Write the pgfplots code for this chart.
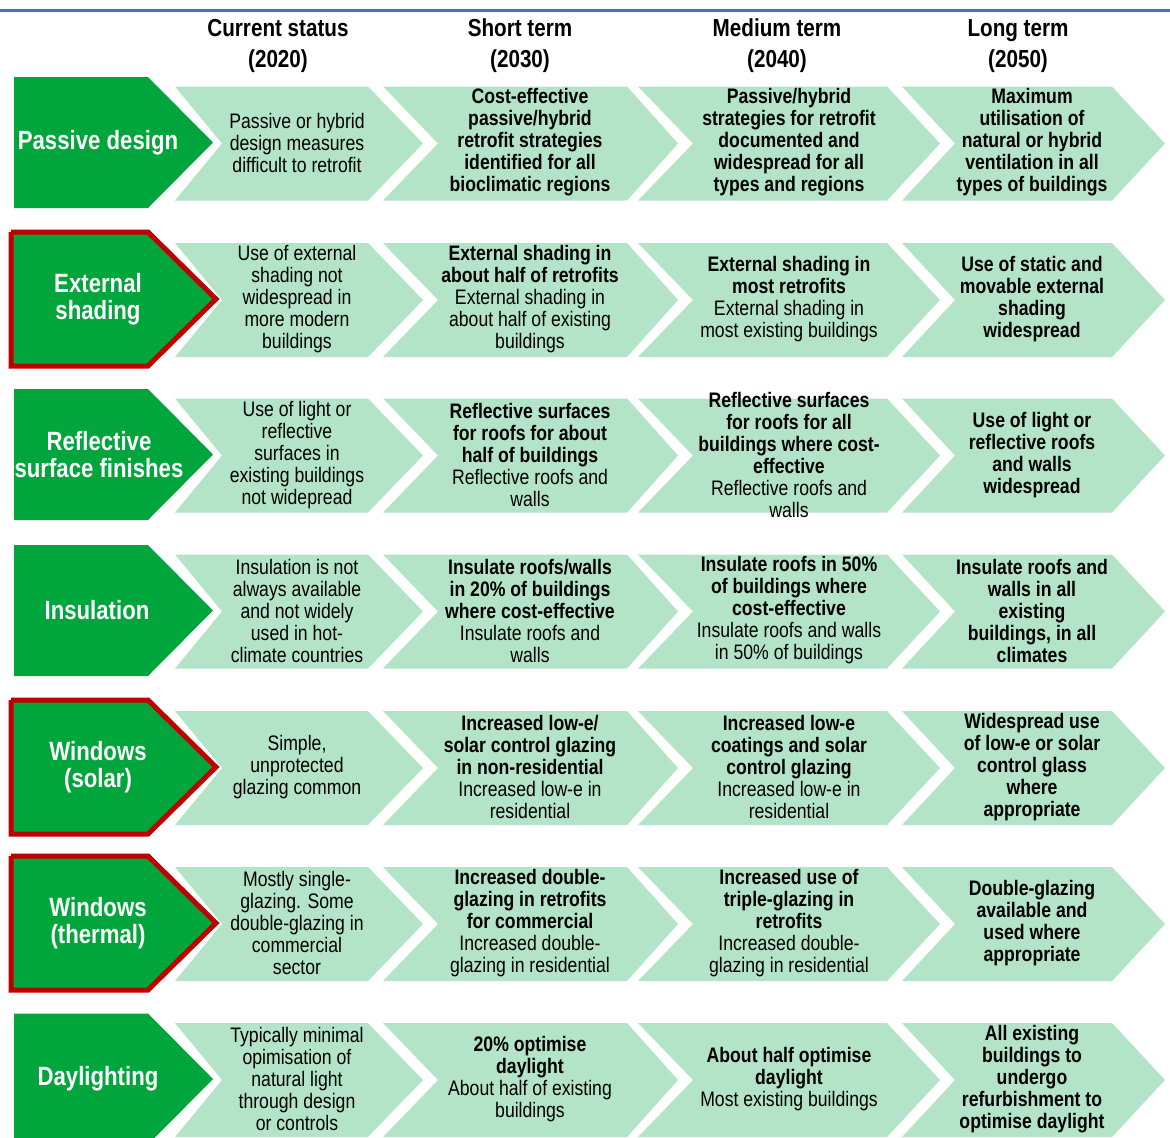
\documentclass[border=0pt]{standalone}
\usepackage{fontspec}
\setmainfont{Liberation Sans}[FakeStretch=0.84]
\usepackage{pgfplots}
\usepackage{pgfplotstable}
\pgfplotsset{compat=1.18}
\definecolor{dg}{RGB}{0,166,60}
\definecolor{lg}{RGB}{179,228,199}
\definecolor{rb}{RGB}{192,0,0}
\definecolor{bl}{RGB}{68,114,196}

% light chevrons, one table per column (x in px, dy relative to row centre)
\pgfplotstableread{
x dy
175 -57
368 -57
423 0
368 57
175 57
222 0
175 -57
}\colA
\pgfplotstableread{
x dy
383 -57
627 -57
678 0
627 57
383 57
438 0
383 -57
}\colB
\pgfplotstableread{
x dy
638 -57
887 -57
940 0
887 57
638 57
693 0
638 -57
}\colC
\pgfplotstableread{
x dy
902 -57
1112 -57
1165 0
1112 57
902 57
955 0
902 -57
}\colD
% green label arrow
\pgfplotstableread{
x dy
14 -65.5
148 -65.5
213 0
148 65.5
14 65.5
14 -65.5
}\grn
% green label arrow with red border
\pgfplotstableread{
x dy
11 -67
148 -67
216 0
148 67
11 67
11 -67
}\grnr

\tikzset{
  body/.style={font=\fontsize{10.5}{11}\selectfont, align=center, text=black, inner sep=0pt},
  head/.style={font=\fontsize{12.3}{15.5}\selectfont\bfseries, align=center, text=black, inner sep=0pt},
  lab/.style={font=\fontsize{13.2}{13.5}\selectfont\bfseries, align=center, text=white, inner sep=0pt},
}
\newcommand\bt[1]{\textbf{#1}}

\begin{document}
\begin{tikzpicture}
\begin{axis}[
  width=585pt, height=568.5pt, scale only axis, hide axis,
  xmin=0, xmax=1170, ymin=0, ymax=1137, y dir=reverse,
  clip=true,
]
\addplot[draw=none, forget plot] coordinates {(0,0) (1170,1137)};
\addplot[draw=bl, line width=1.5pt] coordinates {(0,10) (1170,10)};

\pgfplotsinvokeforeach{142.5,299,454.5,610.5,767,923,1079}{
  \addplot[fill=lg, draw=none] table[x=x, y expr=\thisrow{dy}+#1+1]{\colA};
  \addplot[fill=lg, draw=none] table[x=x, y expr=\thisrow{dy}+#1+1]{\colB};
  \addplot[fill=lg, draw=none] table[x=x, y expr=\thisrow{dy}+#1+1]{\colC};
  \addplot[fill=lg, draw=none] table[x=x, y expr=\thisrow{dy}+#1+1]{\colD};
}
\pgfplotsinvokeforeach{142.5,454.5,610.5,1079}{
  \addplot[fill=dg, draw=none] table[x=x, y expr=\thisrow{dy}+#1]{\grn};
}
\pgfplotsinvokeforeach{299,767,923}{
  \addplot[fill=dg, draw=rb, line width=2.5pt, line join=miter] table[x=x, y expr=\thisrow{dy}+#1]{\grnr};
}

% headers
\node[head] at (axis cs:278,46) {Current status\\(2020)};
\node[head] at (axis cs:520,46) {Short term\\(2030)};
\node[head] at (axis cs:777,46) {Medium term\\(2040)};
\node[head] at (axis cs:1018,46) {Long term\\(2050)};

% row labels
\node[lab] at (axis cs:98,142.5) {Passive design};
\node[lab] at (axis cs:98,299) {External\\shading};
\node[lab] at (axis cs:99,455) {Reflective\\surface finishes};
\node[lab] at (axis cs:97,610.5) {Insulation};
\node[lab] at (axis cs:98,767) {Windows\\(solar)};
\node[lab] at (axis cs:98,923) {Windows\\(thermal)};
\node[lab] at (axis cs:98,1079) {Daylighting};

% row 1
\node[body] at (axis cs:297,142.5) {Passive or hybrid\\design measures\\difficult to retrofit};
\node[body] at (axis cs:530,142.5) {\bt{Cost-effective}\\\bt{passive/hybrid}\\\bt{retrofit strategies}\\\bt{identified for all}\\\bt{bioclimatic regions}};
\node[body] at (axis cs:789,142.5) {\bt{Passive/hybrid}\\\bt{strategies for retrofit}\\\bt{documented and}\\\bt{widespread for all}\\\bt{types and regions}};
\node[body] at (axis cs:1032,142.5) {\bt{Maximum}\\\bt{utilisation of}\\\bt{natural or hybrid}\\\bt{ventilation in all}\\\bt{types of buildings}};

% row 2
\node[body] at (axis cs:297,299) {Use of external\\shading not\\widespread in\\more modern\\buildings};
\node[body] at (axis cs:530,299) {\bt{External shading in}\\\bt{about half of retrofits}\\External shading in\\about half of existing\\buildings};
\node[body] at (axis cs:789,299) {\bt{External shading in}\\\bt{most retrofits}\\External shading in\\most existing buildings};
\node[body] at (axis cs:1032,299) {\bt{Use of static and}\\\bt{movable external}\\\bt{shading}\\\bt{widespread}};

% row 3
\node[body] at (axis cs:297,455) {Use of light or\\reflective\\surfaces in\\existing buildings\\not widepread};
\node[body] at (axis cs:530,455) {\bt{Reflective surfaces}\\\bt{for roofs for about}\\\bt{half of buildings}\\Reflective roofs and\\walls};
\node[body] at (axis cs:789,455) {\bt{Reflective surfaces}\\\bt{for roofs for all}\\\bt{buildings where cost-}\\\bt{effective}\\Reflective roofs and\\walls};
\node[body] at (axis cs:1032,455) {\bt{Use of light or}\\\bt{reflective roofs}\\\bt{and walls}\\\bt{widespread}};

% row 4
\node[body] at (axis cs:297,610.5) {Insulation is not\\always available\\and not widely\\used in hot-\\climate countries};
\node[body] at (axis cs:530,610.5) {\bt{Insulate roofs/walls}\\\bt{in 20\% of buildings}\\\bt{where cost-effective}\\Insulate roofs and\\walls};
\node[body] at (axis cs:789,610.5) {\bt{Insulate roofs in 50\%}\\\bt{of buildings where}\\\bt{cost-effective}\\Insulate roofs and walls\\in 50\% of buildings};
\node[body] at (axis cs:1032,610.5) {\bt{Insulate roofs and}\\\bt{walls in all}\\\bt{existing}\\\bt{buildings, in all}\\\bt{climates}};

% row 5
\node[body] at (axis cs:297,767) {Simple,\\unprotected\\glazing common};
\node[body] at (axis cs:530,767) {\bt{Increased low-e/}\\\bt{solar control glazing}\\\bt{in non-residential}\\Increased low-e in\\residential};
\node[body] at (axis cs:789,767) {\bt{Increased low-e}\\\bt{coatings and solar}\\\bt{control glazing}\\Increased low-e in\\residential};
\node[body] at (axis cs:1032,767) {\bt{Widespread use}\\\bt{of low-e or solar}\\\bt{control glass}\\\bt{where}\\\bt{appropriate}};

% row 6
\node[body] at (axis cs:297,923) {Mostly single-\\glazing. Some\\double-glazing in\\commercial\\sector};
\node[body] at (axis cs:530,923) {\bt{Increased double-}\\\bt{glazing in retrofits}\\\bt{for commercial}\\Increased double-\\glazing in residential};
\node[body] at (axis cs:789,923) {\bt{Increased use of}\\\bt{triple-glazing in}\\\bt{retrofits}\\Increased double-\\glazing in residential};
\node[body] at (axis cs:1032,923) {\bt{Double-glazing}\\\bt{available and}\\\bt{used where}\\\bt{appropriate}};

% row 7
\node[body] at (axis cs:297,1079) {Typically minimal\\opimisation of\\natural light\\through design\\or controls};
\node[body] at (axis cs:530,1079) {\bt{20\% optimise}\\\bt{daylight}\\About half of existing\\buildings};
\node[body] at (axis cs:789,1079) {\bt{About half optimise}\\\bt{daylight}\\Most existing buildings};
\node[body] at (axis cs:1032,1079) {\bt{All existing}\\\bt{buildings to}\\\bt{undergo}\\\bt{refurbishment to}\\\bt{optimise daylight}};
\end{axis}
\end{tikzpicture}
\end{document}
